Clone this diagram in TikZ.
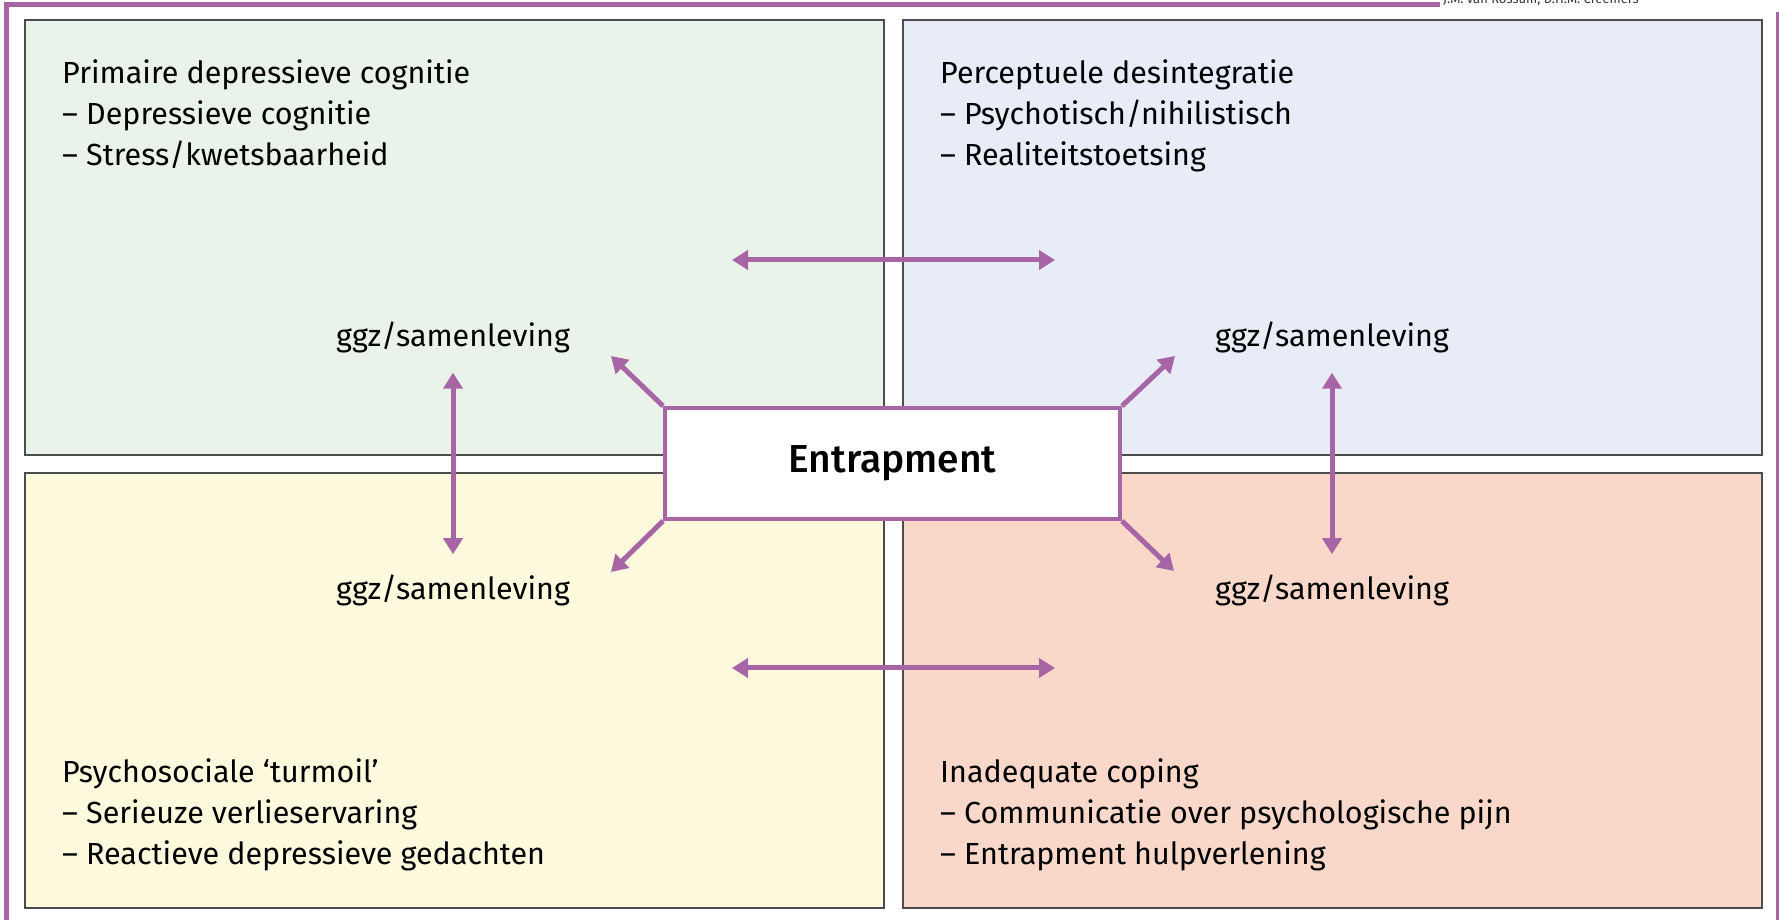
\documentclass[tikz,border=0pt]{standalone}
\usepackage{fontspec}
\setmainfont{Fira Sans}[BoldFont={Fira Sans Medium}]
\usepackage{tikz}
\usetikzlibrary{arrows.meta,positioning}

\definecolor{paars}{RGB}{168,101,166}
\definecolor{groen}{RGB}{234,243,234}
\definecolor{blauw}{RGB}{232,236,247}
\definecolor{geel}{RGB}{255,249,222}
\definecolor{zalm}{RGB}{249,216,202}

\begin{document}
\begin{tikzpicture}[x=1pt, y=1pt, node distance=40pt,
		vak/.style={draw=black!70, line width=2pt, minimum width=859pt, minimum height=435pt, inner sep=0pt, anchor=north west},
		tekst/.style={align=left, inner sep=0pt, font=\fontsize{30.5}{41}\selectfont},
		ggz/.style={inner sep=0pt, anchor=base, font=\fontsize{30.5}{35}\selectfont},
		pijl/.style={draw=paars, line width=5pt, -{Triangle[length=16pt,width=19pt]}},
		dubbel/.style={pijl, {Triangle[length=16pt,width=19pt]}-{Triangle[length=16pt,width=19pt]}}]
	\useasboundingbox (0,0) rectangle (1779,920);

	% kader
	\draw[paars, line width=5pt] (1440,915) -- (6,915) -- (6,-5);
	\draw[paars, line width=4pt] (1777.5,908) -- (1777.5,-5);
	\node[anchor=base west, inner sep=0pt, font=\fontsize{13}{13}\selectfont, text=black!80] (kop) at (1443,916.5) {J.M. van Rossum, D.H.M. Creemers};

	% vakken
	\node[vak, fill=groen] (linksboven) at (24,901) {};
	\node[vak, fill=blauw] (rechtsboven) at (902,901) {};
	\node[vak, fill=geel] (linksonder) at (24,448) {};
	\node[vak, fill=zalm] (rechtsonder) at (902,448) {};

	\node[tekst, below right=41pt and 38pt of linksboven.north west] (primair) {Primaire depressieve cognitie\\-- Depressieve cognitie\\-- Stress/kwetsbaarheid};
	\node[tekst, below right=41pt and 38pt of rechtsboven.north west] (perceptueel) {Perceptuele desintegratie\\-- Psychotisch/nihilistisch\\-- Realiteitstoetsing};
	\node[tekst, above right=38pt and 38pt of linksonder.south west] (turmoil) {Psychosociale ‘turmoil’\\-- Serieuze verlieservaring\\-- Reactieve depressieve gedachten};
	\node[tekst, above right=38pt and 38pt of rechtsonder.south west] (coping) {Inadequate coping\\-- Communicatie over psychologische pijn\\-- Entrapment hulpverlening};

	\node[ggz] (ggzlb) at (453,573) {ggz/samenleving};
	\node[ggz] (ggzrb) at (1332,573) {ggz/samenleving};
	\node[ggz] (ggzlo) at (453,320) {ggz/samenleving};
	\node[ggz] (ggzro) at (1332,320) {ggz/samenleving};

	\node[draw=paars, line width=4pt, fill=white, minimum width=455pt, minimum height=111pt, font=\fontsize{39}{39}\bfseries] (entrapment) at (892.5,456.5) {Entrapment};

	\coordinate (boven links) at (732,660);
	\coordinate (boven rechts) at (1055,660);
	\coordinate (onder links) at (732,252);
	\coordinate (onder rechts) at (1055,252);
	\coordinate (punt lb) at (611,564);
	\coordinate (punt rb) at (1175,564);
	\coordinate (punt lo) at (611,348);
	\coordinate (punt ro) at (1174,349);

	\path
		(boven links) edge[dubbel] (boven rechts)
		(onder links) edge[dubbel] (onder rechts)
		(ggzlb) edge[dubbel, shorten <=19pt, shorten >=21pt] (ggzlo)
		(ggzrb) edge[dubbel, shorten <=19pt, shorten >=21pt] (ggzro)
		(entrapment.north west) edge[pijl] (punt lb)
		(entrapment.north east) edge[pijl] (punt rb)
		(entrapment.south west) edge[pijl] (punt lo)
		(entrapment.south east) edge[pijl] (punt ro)
	;
\end{tikzpicture}
\end{document}
